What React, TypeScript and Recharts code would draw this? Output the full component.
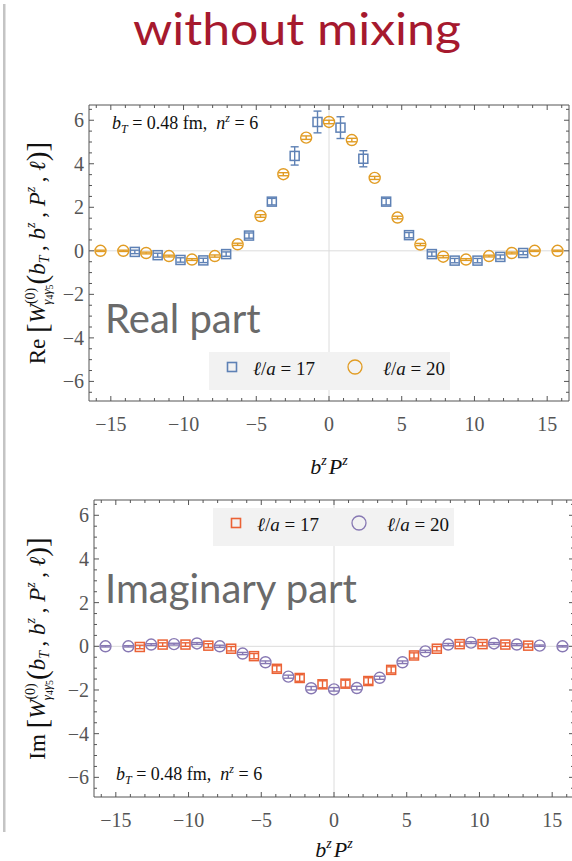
import React from "react";
import { ComposedChart, Scatter, XAxis, YAxis, ErrorBar, ReferenceLine, Legend } from "recharts";

const BLUE = "#5e81b5";
const ORANGE = "#e19c24";
const RED = "#eb6235";
const PURPLE = "#8778b3";
const FRAME = "#555555";
const TICK_TEXT = "#555555";
const SERIF = "'Liberation Serif', 'DejaVu Serif', serif";
const SANS = "Lato, 'Open Sans', sans-serif";

// b^z P^z positions
const xSquares = [-13.35, -11.78, -10.21, -8.64, -7.07, -5.5, -3.93, -2.36, -0.79, 0.79, 2.36, 3.93, 5.5, 7.07, 8.64, 10.21, 11.78, 13.35];
const xCircles = [-15.71, -14.14, -12.57, -11.0, -9.42, -7.85, -6.28, -4.71, -3.14, -1.57, 0, 1.57, 3.14, 4.71, 6.28, 7.85, 9.42, 11.0, 12.57, 14.14, 15.71];

// real part
const reL17 = [-0.05, -0.2, -0.42, -0.44, -0.15, 0.7, 2.26, 4.36, 5.92, 5.66, 4.23, 2.26, 0.72, -0.15, -0.45, -0.45, -0.28, -0.1];
const reL17Err = [0.08, 0.09, 0.1, 0.1, 0.1, 0.12, 0.15, 0.42, 0.5, 0.5, 0.37, 0.15, 0.12, 0.1, 0.1, 0.1, 0.09, 0.08];
const reL20 = [0, 0, -0.1, -0.24, -0.4, -0.24, 0.3, 1.6, 3.52, 5.2, 5.92, 5.09, 3.35, 1.53, 0.29, -0.27, -0.4, -0.24, -0.1, 0, 0];
const reL20Err = [0.03, 0.03, 0.04, 0.04, 0.04, 0.05, 0.05, 0.06, 0.07, 0.08, 0.08, 0.08, 0.07, 0.06, 0.05, 0.05, 0.04, 0.04, 0.04, 0.03, 0.03];

// imaginary part
const imL17 = [-0.03, 0.08, 0.08, 0.03, -0.11, -0.45, -1.03, -1.45, -1.74, -1.71, -1.59, -1.08, -0.42, -0.11, 0.1, 0.1, 0.08, 0.03];
const imL17Err = [0.08, 0.08, 0.08, 0.09, 0.1, 0.12, 0.14, 0.15, 0.16, 0.16, 0.15, 0.14, 0.12, 0.1, 0.09, 0.08, 0.08, 0.08];
const imL20 = [0, 0, 0.08, 0.1, 0.13, 0.0, -0.33, -0.73, -1.39, -1.92, -1.97, -1.91, -1.44, -0.73, -0.23, 0.08, 0.17, 0.13, 0.08, 0.03, 0];
const imL20Err = [0.03, 0.03, 0.04, 0.04, 0.04, 0.05, 0.05, 0.06, 0.07, 0.08, 0.08, 0.08, 0.07, 0.06, 0.05, 0.05, 0.04, 0.04, 0.04, 0.03, 0.03];

const xMajor = [-15, -10, -5, 0, 5, 10, 15];
const xTicksAll = [-16, -15, -14, -13, -12, -11, -10, -9, -8, -7, -6, -5, -4, -3, -2, -1, 0, 1, 2, 3, 4, 5, 6, 7, 8, 9, 10, 11, 12, 13, 14, 15, 16];
const yMajor = [-6, -4, -2, 0, 2, 4, 6];
const yTicksAll = [-6.5, -6, -5.5, -5, -4.5, -4, -3.5, -3, -2.5, -2, -1.5, -1, -0.5, 0, 0.5, 1, 1.5, 2, 2.5, 3, 3.5, 4, 4.5, 5, 5.5, 6, 6.5];

const X_DOMAIN: [number, number] = [-16.5, 16.5];
const Y_DOMAIN: [number, number] = [-6.9, 6.7];

type Pt = { x: number; y: number; err: number };
const zip = (xs: number[], ys: number[], es: number[]): Pt[] => xs.map((x, i) => ({ x, y: ys[i], err: es[i] }));

const fmtTick = (v: number) => (v < 0 ? `\u2212${-v}` : `${v}`);

// frame ticks point inward; labels only on bottom / left
const xTick = (side: "bottom" | "top") => (props: any) => {
  const { x, y, payload } = props;
  const v = payload.value;
  const major = xMajor.includes(v);
  const len = major ? 5 : 3;
  const dir = side === "bottom" ? -1 : 1;
  return (
    <g>
      <line x1={x} y1={y} x2={x} y2={y + dir * len} stroke={FRAME} strokeWidth={1} />
      {side === "bottom" && major && (
        <text x={x} y={y + 30} textAnchor="middle" fontFamily={SERIF} fontSize={20} fill={TICK_TEXT}>
          {fmtTick(v)}
        </text>
      )}
    </g>
  );
};

const yTick = (side: "left" | "right") => (props: any) => {
  const { x, y, payload } = props;
  const v = payload.value;
  const major = yMajor.includes(v);
  const len = major ? 5 : 3;
  const dir = side === "left" ? 1 : -1;
  return (
    <g>
      <line x1={x} y1={y} x2={x + dir * len} y2={y} stroke={FRAME} strokeWidth={1} />
      {side === "left" && major && (
        <text x={x - 5} y={y + 7} textAnchor="end" fontFamily={SERIF} fontSize={20} fill={TICK_TEXT}>
          {fmtTick(v)}
        </text>
      )}
    </g>
  );
};

const squareShape = (color: string) => (p: any) =>
  p.cx == null ? <g /> : <rect x={p.cx - 4.5} y={p.cy - 4.5} width={9} height={9} fill="none" stroke={color} strokeWidth={1.5} />;

const circleShape = (color: string) => (p: any) =>
  p.cx == null ? <g /> : <circle cx={p.cx} cy={p.cy} r={5.5} fill="none" stroke={color} strokeWidth={1.4} />;

function YTitle({ viewBox, part }: any) {
  const x = 45;
  const y = viewBox.y + viewBox.height / 2;
  return (
    <text transform={`translate(${x},${y}) rotate(-90)`} textAnchor="middle" fontFamily={SERIF} fontSize={23} fill="#111">
      <tspan>{part}{"\u00a0"}</tspan>
      <tspan fontSize={29} dy={2}>[</tspan>
      <tspan dy={-2} fontStyle="italic">W</tspan>
      <tspan fontSize={14} dy={-10}>(0)</tspan>
      <tspan fontSize={13} fontStyle="italic" dx={-17} dy={16}>γ</tspan>
      <tspan fontSize={10} dy={2}>4</tspan>
      <tspan fontSize={13} fontStyle="italic" dy={-2}>γ</tspan>
      <tspan fontSize={10} dy={2}>5</tspan>
      <tspan fontSize={29} dy={-6}>(</tspan>
      <tspan dy={-2} fontStyle="italic">b</tspan>
      <tspan fontSize={14} fontStyle="italic" dy={4}>T</tspan>
      <tspan dy={-4}>{"\u2009,\u00a0"}</tspan>
      <tspan fontStyle="italic">b</tspan>
      <tspan fontSize={14} fontStyle="italic" dy={-10}>z</tspan>
      <tspan dy={10}>{"\u2009,\u00a0"}</tspan>
      <tspan fontStyle="italic">P</tspan>
      <tspan fontSize={14} fontStyle="italic" dy={-10}>z</tspan>
      <tspan dy={10}>{"\u2009,\u00a0"}</tspan>
      <tspan fontStyle="italic">ℓ</tspan>
      <tspan fontSize={29} dy={2}>)</tspan>
      <tspan fontSize={29}>]</tspan>
    </text>
  );
}

function XTitle({ viewBox, baseline }: any) {
  const x = viewBox.x + viewBox.width / 2;
  return (
    <text x={x} y={baseline} textAnchor="middle" fontFamily={SERIF} fontSize={22} fontStyle="italic" fill="#111">
      <tspan>b</tspan>
      <tspan fontSize={14} dy={-9}>z</tspan>
      <tspan dy={9} dx={2}>P</tspan>
      <tspan fontSize={14} dy={-9}>z</tspan>
    </text>
  );
}

function LegendLabel({ text }: { text: string }) {
  const num = text.split("= ")[1];
  return (
    <span>
      <i>ℓ</i>/<i>a</i> = {num}
    </span>
  );
}

const renderLegend = (props: any) => {
  const items = props.payload || [];
  return (
    <div style={{ width: 241, height: 38, background: "#f2f2f2", position: "relative" }}>
      {items.map((it: any, i: number) => (
        <React.Fragment key={i}>
          <svg style={{ position: "absolute", left: 14 + i * 123, top: 6 }} width={18} height={18}>
            {it.type === "square" ? (
              <rect x={4.5} y={4.5} width={9} height={9} fill="none" stroke={it.color} strokeWidth={1.6} />
            ) : (
              <circle cx={9} cy={9} r={7} fill="none" stroke={it.color} strokeWidth={1.3} />
            )}
          </svg>
          <span
            style={{
              position: "absolute",
              left: 44 + i * 130,
              top: 7,
              fontFamily: SERIF,
              fontSize: 19,
              lineHeight: "19px",
              color: "#111",
              whiteSpace: "nowrap",
            }}
          >
            <LegendLabel text={String(it.value)} />
          </span>
        </React.Fragment>
      ))}
    </div>
  );
};

type PanelProps = {
  top: number;
  width: number;
  height: number;
  yAxisWidth: number;
  xAxisHeight: number;
  marginRight: number;
  squares: Pt[];
  circles: Pt[];
  squareColor: string;
  circleColor: string;
  part: string;
  xTitleBaseline: number;
  legendLeft: number;
  legendTop: number;
};

function Panel(p: PanelProps) {
  return (
    <div style={{ position: "absolute", left: 0, top: p.top, width: p.width, height: p.height }}>
      <ComposedChart width={p.width} height={p.height} margin={{ top: 45, right: p.marginRight, left: 0, bottom: 0 }}>
        <XAxis
          xAxisId="x"
          type="number"
          dataKey="x"
          domain={X_DOMAIN}
          allowDataOverflow
          ticks={xTicksAll}
          interval={0}
          tickLine={false}
          tickSize={0}
          tickMargin={0}
          axisLine={{ stroke: FRAME }}
          tick={xTick("bottom")}
          height={p.xAxisHeight}
          label={{ content: (lp: any) => <XTitle viewBox={lp.viewBox} baseline={p.xTitleBaseline} /> }}
        />
        <XAxis
          xAxisId="xt"
          orientation="top"
          mirror
          type="number"
          dataKey="x"
          domain={X_DOMAIN}
          allowDataOverflow
          ticks={xTicksAll}
          interval={0}
          tickLine={false}
          tickSize={0}
          tickMargin={0}
          axisLine={{ stroke: FRAME }}
          tick={xTick("top")}
        />
        <YAxis
          yAxisId="y"
          type="number"
          dataKey="y"
          domain={Y_DOMAIN}
          allowDataOverflow
          ticks={yTicksAll}
          interval={0}
          tickLine={false}
          tickSize={0}
          tickMargin={0}
          axisLine={{ stroke: FRAME }}
          tick={yTick("left")}
          width={p.yAxisWidth}
          label={{ content: (lp: any) => <YTitle viewBox={lp.viewBox} part={p.part} /> }}
        />
        <YAxis
          yAxisId="yr"
          orientation="right"
          mirror
          type="number"
          dataKey="y"
          domain={Y_DOMAIN}
          allowDataOverflow
          ticks={yTicksAll}
          interval={0}
          tickLine={false}
          tickSize={0}
          tickMargin={0}
          axisLine={{ stroke: FRAME }}
          tick={yTick("right")}
        />
        <ReferenceLine xAxisId="x" yAxisId="y" x={0} stroke="#dcdcdc" strokeWidth={1} />
        <ReferenceLine xAxisId="x" yAxisId="y" y={0} stroke="#dcdcdc" strokeWidth={1} />
        <Legend
          layout="horizontal"
          verticalAlign="middle"
          align="center"
          content={renderLegend}
          wrapperStyle={{ left: p.legendLeft, top: p.legendTop, width: 241, height: 38 }}
        />
        <Scatter
          name="ℓ/a = 17"
          data={p.squares}
          xAxisId="x"
          yAxisId="y"
          dataKey="y"
          fill={p.squareColor}
          legendType="square"
          shape={squareShape(p.squareColor)}
          isAnimationActive={false}
        >
          <ErrorBar dataKey="err" direction="y" width={4} stroke={p.squareColor} strokeWidth={1.4} />
        </Scatter>
        <Scatter
          name="ℓ/a = 20"
          data={p.circles}
          xAxisId="xt"
          yAxisId="yr"
          dataKey="y"
          fill={p.circleColor}
          legendType="circle"
          shape={circleShape(p.circleColor)}
          isAnimationActive={false}
        >
          <ErrorBar dataKey="err" direction="y" width={5} stroke={p.circleColor} strokeWidth={1.4} />
        </Scatter>
      </ComposedChart>
    </div>
  );
}

function Params({ x, y }: { x: number; y: number }) {
  return (
    <text x={x} y={y} fontFamily={SERIF} fontSize={18} fill="#111">
      <tspan fontStyle="italic">b</tspan>
      <tspan fontSize={12} fontStyle="italic" dy={4}>T</tspan>
      <tspan dy={-4}>{"\u00a0=\u00a00.48\u00a0fm,\u00a0\u00a0"}</tspan>
      <tspan fontStyle="italic">n</tspan>
      <tspan fontSize={12} fontStyle="italic" dy={-7}>z</tspan>
      <tspan dy={7}>{"\u00a0=\u00a06"}</tspan>
    </text>
  );
}

export default function App() {
  return (
    <div style={{ position: "absolute", left: 0, top: 0, width: 572, height: 861, overflow: "hidden", background: "#fff" }}>
      <Panel
        top={60}
        width={572}
        height={440}
        yAxisWidth={89}
        xAxisHeight={99}
        marginRight={3}
        squares={zip(xSquares, reL17, reL17Err)}
        circles={zip(xCircles, reL20, reL20Err)}
        squareColor={BLUE}
        circleColor={ORANGE}
        part="Re"
        xTitleBaseline={414}
        legendLeft={209}
        legendTop={292}
      />
      <Panel
        top={455}
        width={580}
        height={406}
        yAxisWidth={94}
        xAxisHeight={64}
        marginRight={6}
        squares={zip(xSquares, imL17, imL17Err)}
        circles={zip(xCircles, imL20, imL20Err)}
        squareColor={RED}
        circleColor={PURPLE}
        part="Im"
        xTitleBaseline={402}
        legendLeft={213}
        legendTop={53}
      />
      <svg style={{ position: "absolute", left: 0, top: 0, pointerEvents: "none" }} width={572} height={861}>
        <rect x={3} y={4} width={2.5} height={828} fill="#c4c4c4" />
        <text x={297} y={45} textAnchor="middle" fontFamily={SANS} fontSize={44} fill="#a6192e" textLength={328} lengthAdjust="spacingAndGlyphs">
          without mixing
        </text>
        <text x={105} y={333} fontFamily={SANS} fontSize={40} fill="#6a6a6a">
          Real part
        </text>
        <text x={105} y={603} fontFamily={SANS} fontSize={40} fill="#6a6a6a">
          Imaginary part
        </text>
        <Params x={112} y={129} />
        <Params x={116} y={780} />
      </svg>
    </div>
  );
}
